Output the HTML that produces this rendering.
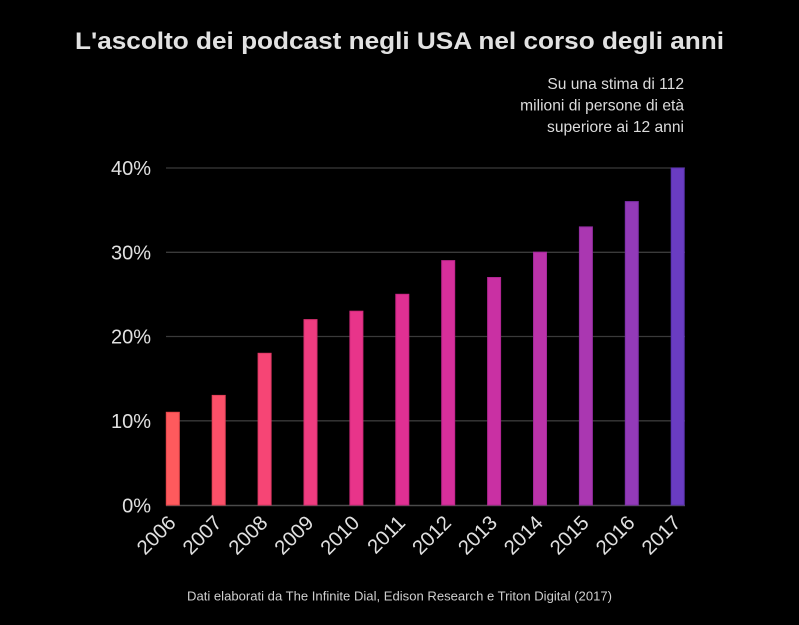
<!DOCTYPE html>
<html>
<head>
<meta charset="utf-8">
<style>
html,body{margin:0;padding:0;background:#000;}
svg{display:block;}
text{font-family:"Liberation Sans",Arial,sans-serif;}
</style>
</head>
<body>
<svg width="799" height="625" viewBox="0 0 799 625" xmlns="http://www.w3.org/2000/svg">
<rect x="0" y="0" width="799" height="625" fill="#000"/>
<text x="399.5" y="49" text-anchor="middle" font-size="24.5" font-weight="bold" fill="#e2e2e2" textLength="649" lengthAdjust="spacingAndGlyphs">L'ascolto dei podcast negli USA nel corso degli anni</text>
<g font-size="15.6" fill="#dcdcdc" text-anchor="end">
<text x="684" y="89">Su una stima di 112</text>
<text x="684" y="110.5">milioni di persone di età</text>
<text x="684" y="132">superiore ai 12 anni</text>
</g>
<!-- gridlines -->
<g stroke="#3a3a3a" stroke-width="1.3">
<line x1="166" y1="168" x2="685" y2="168"/>
<line x1="166" y1="252.3" x2="685" y2="252.3"/>
<line x1="166" y1="336.5" x2="685" y2="336.5"/>
<line x1="166" y1="420.8" x2="685" y2="420.8"/>
</g>
<line x1="166" y1="505.5" x2="685" y2="505.5" stroke="#4a4a4a" stroke-width="1.5"/>
<!-- y labels -->
<g font-size="20" fill="#e0e0e0" text-anchor="end">
<text x="151" y="175">40%</text>
<text x="151" y="259.3">30%</text>
<text x="151" y="343.5">20%</text>
<text x="151" y="427.8">10%</text>
<text x="151" y="512.5">0%</text>
</g>
<!-- bars -->
<g stroke-width="1">
<rect x="166.3" y="412.3" width="13" height="92.7" fill="#fe5a5d" stroke="#e8474c"/>
<rect x="212.2" y="395.4" width="13" height="109.6" fill="#fb5069" stroke="#e34158"/>
<rect x="258.1" y="353.3" width="13" height="151.7" fill="#f64575" stroke="#de3864"/>
<rect x="304" y="319.6" width="13" height="185.4" fill="#ef3c80" stroke="#d73070"/>
<rect x="349.9" y="311.2" width="13" height="193.8" fill="#e8348a" stroke="#d0297a"/>
<rect x="395.8" y="294.3" width="13" height="210.7" fill="#e03093" stroke="#c82683"/>
<rect x="441.7" y="260.6" width="13" height="244.4" fill="#d62f9b" stroke="#be258b"/>
<rect x="487.6" y="277.5" width="13" height="227.5" fill="#c930a3" stroke="#b12693"/>
<rect x="533.5" y="252.2" width="13" height="252.8" fill="#bb33aa" stroke="#a3299a"/>
<rect x="579.4" y="226.9" width="13" height="278.1" fill="#aa37b1" stroke="#932da1"/>
<rect x="625.3" y="201.6" width="13" height="303.4" fill="#933ab8" stroke="#7d30a8"/>
<rect x="671.2" y="168" width="13" height="337" fill="#6a3cc2" stroke="#5a32b0"/>
</g>
<!-- x labels -->
<g font-size="20.3" fill="#e0e0e0" text-anchor="end">
<text transform="translate(177,524) rotate(-45)">2006</text>
<text transform="translate(222.9,524) rotate(-45)">2007</text>
<text transform="translate(268.8,524) rotate(-45)">2008</text>
<text transform="translate(314.7,524) rotate(-45)">2009</text>
<text transform="translate(360.6,524) rotate(-45)">2010</text>
<text transform="translate(406.5,524) rotate(-45)">2011</text>
<text transform="translate(452.4,524) rotate(-45)">2012</text>
<text transform="translate(498.3,524) rotate(-45)">2013</text>
<text transform="translate(544.2,524) rotate(-45)">2014</text>
<text transform="translate(590.1,524) rotate(-45)">2015</text>
<text transform="translate(636,524) rotate(-45)">2016</text>
<text transform="translate(681.9,524) rotate(-45)">2017</text>
</g>
<text x="399.5" y="600.5" text-anchor="middle" font-size="13" fill="#cfcfcf" textLength="425" lengthAdjust="spacingAndGlyphs">Dati elaborati da The Infinite Dial, Edison Research e Triton Digital (2017)</text>
</svg>
</body>
</html>
